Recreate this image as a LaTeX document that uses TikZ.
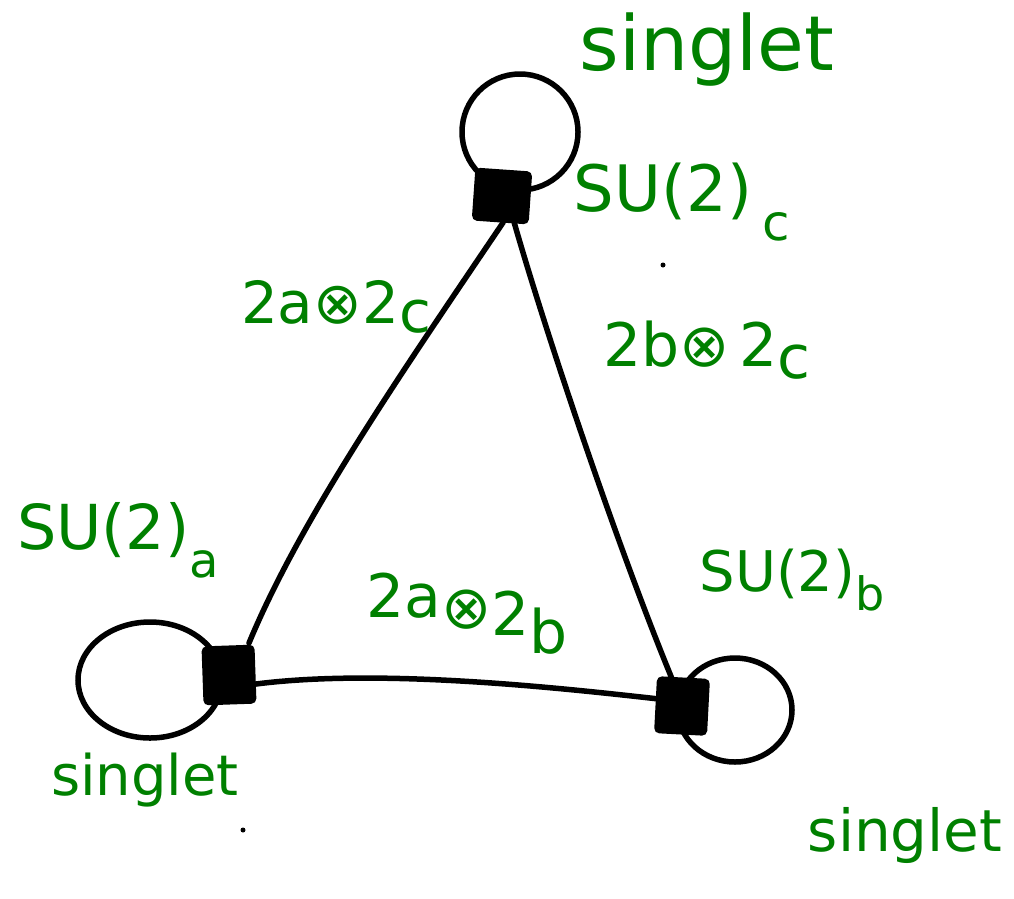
\documentclass[tikz,border=0pt]{standalone}
\usepackage{fontspec}
\setmainfont{DejaVu Sans}
\definecolor{pen}{RGB}{0,128,0}
\newcommand{\lowsub}[2][0.4em]{\raisebox{-#1}{#2}}
\begin{document}
\begin{tikzpicture}[x=1pt,y=-1pt,line width=5.5pt,line cap=round,
  lbl/.style={text=pen,inner sep=0pt,anchor=center},
  sq/.style={draw,fill=black,line width=5pt,rounded corners=3pt,minimum width=52pt,minimum height=48pt,inner sep=0pt},
  wire/.style={draw=black,line width=5.5pt},
  speck/.style={fill=black}]
\useasboundingbox (0,0) rectangle (1014,898);
% loops (behind squares)
\draw[wire] (520,132) circle[radius=58pt];
\draw[wire] (150,680) ellipse[x radius=72pt,y radius=58pt];
\draw[wire] (735,710) ellipse[x radius=57pt,y radius=52pt];
% vertices
\node[sq,rotate=-4] (C) at (502,196) {};
\node[sq,minimum width=48pt,minimum height=54pt,rotate=2] (A) at (229,675) {};
\node[sq,minimum width=48pt,minimum height=52pt,rotate=-3] (B) at (682,706) {};
% edges
\coordinate (Aend) at (249,643);
\draw[wire] ([xshift=3pt]C.south) .. controls (400,375) and (300,520) .. (Aend);
\draw[wire] ([xshift=14pt]C.south) .. controls (545,330) and (615,540) .. ([xshift=-12pt]B.north);
\draw[wire] ([yshift=-10pt]A.east) .. controls (380,668) and (560,688) .. ([yshift=6pt]B.west);
% labels
\node[lbl,font=\fontsize{76}{80}\selectfont] (s1) at (707,50) {singlet};
\node[lbl,font=\fontsize{64}{70}\selectfont] (uc) at (682,202) {SU(2)\,\lowsub[0.45em]{\fontsize{50}{50}\selectfont c}};
\node[lbl,font=\fontsize{58}{64}\selectfont] (ac) at (336,307) {2a⊗2\lowsub[0.15em]{c}};
\node[lbl,font=\fontsize{60}{66}\selectfont] (bc) at (707,350) {2b⊗\,2\lowsub[0.2em]{c}};
\node[lbl,font=\fontsize{62}{68}\selectfont] (ua) at (118,540) {SU(2)\lowsub[0.45em]{\fontsize{48}{48}\selectfont a}};
\node[lbl,font=\fontsize{60}{66}\selectfont] (ab) at (467,614) {\raisebox{0.3em}{2a}\raisebox{0.12em}{⊗}2\lowsub[0.3em]{b}};
\node[lbl,font=\fontsize{56}{62}\selectfont] (ub) at (792,580) {SU(2)\lowsub[0.35em]{\fontsize{46}{46}\selectfont b}};
\node[lbl,font=\fontsize{56}{60}\selectfont] (s2) at (145,780) {singlet};
\node[lbl,font=\fontsize{58}{62}\selectfont] (s3) at (905,835) {singlet};
% stray dots
\fill[speck] (663,265) circle[radius=2.5pt];
\fill[speck] (243,830) circle[radius=2.5pt];
\end{tikzpicture}
\end{document}
